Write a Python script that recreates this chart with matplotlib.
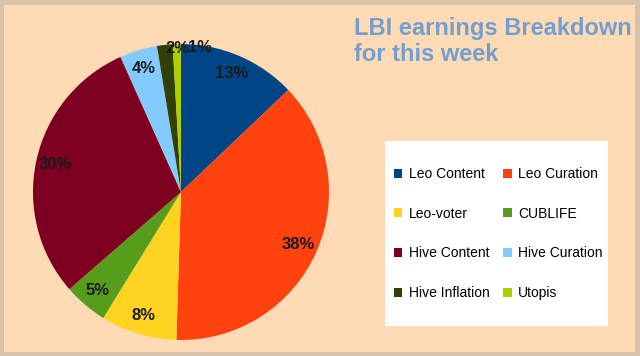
import matplotlib
matplotlib.use("Agg")
import matplotlib.pyplot as plt
from matplotlib.patches import Rectangle
import numpy as np

plt.rcParams['font.family'] = ['Liberation Sans', 'DejaVu Sans']

labels = ["Leo Content", "Leo Curation", "Leo-voter", "CUBLIFE",
          "Hive Content", "Hive Curation", "Hive Inflation", "Utopis"]
values = [12.9, 37.6, 8.3, 4.8, 29.7, 4.1, 1.7, 0.9]
colors = ["#004586", "#ff420e", "#ffd320", "#579d1c",
          "#7e0021", "#83caff", "#314004", "#aecf00"]
title = "LBI earnings Breakdown\nfor this week"

W, H = 640, 356
fig = plt.figure(figsize=(W / 100, H / 100), dpi=100)
fig.patch.set_facecolor("#d8c2ac")
fig.patches.append(Rectangle((4 / W, 4 / H), 1 - 9 / W, 1 - 9 / H,
                             transform=fig.transFigure, facecolor="#ffdab5",
                             edgecolor="none", zorder=0))

cx, cy, R = 181, 192, 148
ax = fig.add_axes([(cx - R) / W, (H - cy - R) / H, 2 * R / W, 2 * R / H])
ax.set_zorder(3)
wedges, _ = ax.pie(values, colors=colors, startangle=90, counterclock=False,
                   radius=1, wedgeprops=dict(linewidth=0))
ax.set_xlim(-1, 1)
ax.set_ylim(-1, 1)
ax.set_aspect("equal")
ax.axis("off")

small_offsets = {6: (9, -2.5), 7: (17, -2.5)}
for i, (w, v) in enumerate(zip(wedges, values)):
    ang = np.deg2rad((w.theta1 + w.theta2) / 2)
    txt = f"{round(v)}%"
    if i in small_offsets:
        r = 1.0
        ax.annotate(txt, (r * np.cos(ang), r * np.sin(ang)),
                    xytext=small_offsets[i], textcoords="offset points",
                    ha="center", va="center", fontsize=12, fontweight="bold",
                    color="#1a1a1a", annotation_clip=False)
    else:
        r = 0.87
        ax.text(r * np.cos(ang), r * np.sin(ang), txt, ha="center", va="center",
                fontsize=12, fontweight="bold", color="#1a1a1a")

fig.text(354 / W, 1 - 17 / H, title, ha="left", va="top", fontsize=17,
         fontweight="bold", color="#729fcf", linespacing=1.15)

# legend box
bx0, by0, bx1, by1 = 385, 141, 608, 326
fig.patches.append(Rectangle((bx0 / W, 1 - by1 / H), (bx1 - bx0) / W, (by1 - by0) / H,
                             transform=fig.transFigure, facecolor="white",
                             edgecolor="none", zorder=1))
order = [0, 2, 4, 6, 1, 3, 5, 7]
leg = fig.legend([wedges[i] for i in order], [labels[i] for i in order],
                 ncol=2, loc="upper left", bbox_to_anchor=(394 / W, 1 - 167 / H),
                 frameon=False, fontsize=10, borderpad=0, borderaxespad=0,
                 handlelength=0.6, handleheight=0.6, handletextpad=0.45,
                 labelspacing=1.85, columnspacing=1.0)
leg.set_zorder(4)

fig.savefig("out.png", dpi=100, facecolor=fig.get_facecolor())
